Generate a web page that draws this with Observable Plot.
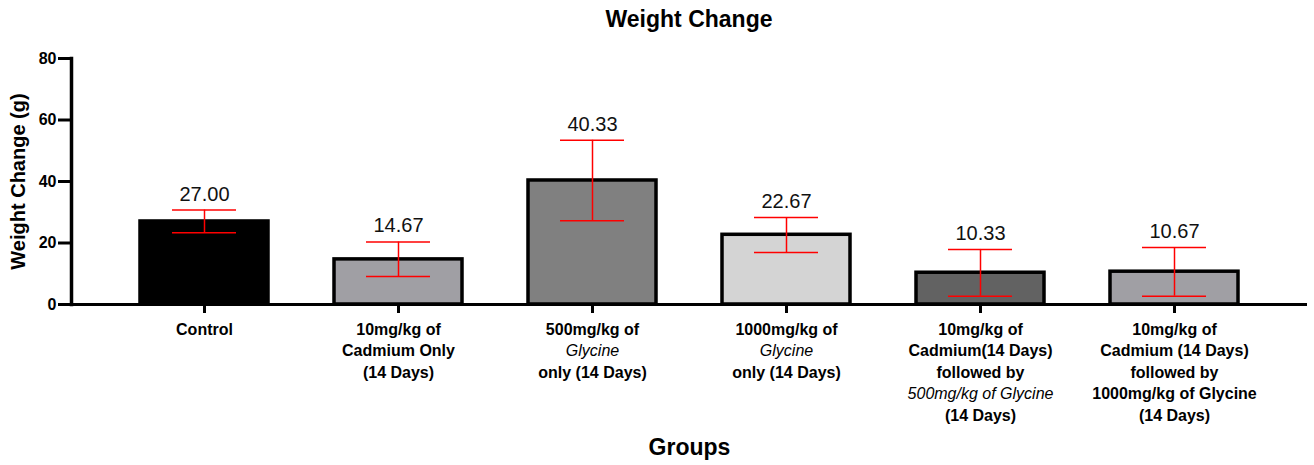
<!DOCTYPE html>
<html>
<head>
<meta charset="utf-8">
<script src="https://cdn.jsdelivr.net/npm/d3@7"></script>
<script src="https://cdn.jsdelivr.net/npm/@observablehq/plot@0.6"></script>
<style>
  html, body { margin: 0; padding: 0; background: #fff; }
  #title { width: 1314px; height: 40px; box-sizing: border-box; padding-left: 71px; padding-right: 7px;
    text-align: center; font: bold 23px "Liberation Sans", Arial, sans-serif; line-height: 38px; color: #000; }
  svg { display: block; }
</style>
</head>
<body>
<div id="title">Weight Change</div>
<div id="chart"></div>
<script>
// ---- data ----
const groups = ["G1", "G2", "G3", "G4", "G5", "G6"];
const means = [27.00, 14.67, 40.33, 22.67, 10.33, 10.67];
const errLow = [23.3, 9.1, 27.2, 16.9, 2.7, 2.7];
const errHigh = [30.7, 20.3, 53.4, 28.3, 17.9, 18.5];
const barColors = ["#000000", "#a09fa4", "#808080", "#d4d4d4", "#626262", "#a09fa4"];
const labelLines = [
  ["Control"],
  ["10mg/kg of", "Cadmium Only", "(14 Days)"],
  ["500mg/kg of", "Glycine", "only (14 Days)"],
  ["1000mg/kg of", "Glycine", "only (14 Days)"],
  ["10mg/kg of", "Cadmium(14 Days)", "followed by", "500mg/kg of Glycine", "(14 Days)"],
  ["10mg/kg of", "Cadmium (14 Days)", "followed by", "1000mg/kg of Glycine", "(14 Days)"]
];
const italicLines = [[], [], [1], [1], [3], []];
const yTicks = [0, 20, 40, 60, 80];
const yLabel = "Weight Change (g)";
const xLabel = "Groups";

// ---- tables ----
const rows = groups.map((g, i) => ({group: g, mean: means[i], lo: errLow[i], hi: errHigh[i], color: barColors[i]}));
const lineRows = [];
groups.forEach((g, i) => labelLines[i].forEach((t, j) => lineRows.push({group: g, line: j, text: t, italic: italicLines[i].includes(j)})));

const font = '"Liberation Sans", Arial, sans-serif';
const lineStep = 21.5;
const maxLines = d3.max(labelLines, l => l.length);

const labelMarks = [];
for (let j = 0; j < maxLines; ++j) {
  for (const italic of [false, true]) {
    const data = lineRows.filter(d => d.line === j && d.italic === italic);
    if (!data.length) continue;
    labelMarks.push(Plot.text(data, {
      x: "group", y: () => 0, text: "text", dy: 25 + j * lineStep, fontSize: 16,
      fontWeight: italic ? "normal" : "bold", fontStyle: italic ? "italic" : "normal",
      lineAnchor: "middle", fill: "#000"
    }));
  }
}

const chart = Plot.plot({
  width: 1314,
  height: 425,
  marginTop: 18,
  marginBottom: 161,
  marginLeft: 71,
  marginRight: 7,
  style: {fontFamily: font, background: "#fff", color: "#000"},
  x: {domain: groups, padding: 0.34, axis: null},
  y: {domain: [0, 80], axis: null},
  color: {type: "identity"},
  marks: [
    Plot.barY(rows, {x: "group", y: "mean", fill: "color", stroke: "#000", strokeWidth: 3.5}),
    Plot.ruleX(rows, {x: "group", y1: "lo", y2: "hi", stroke: "#ff0000", strokeWidth: 1.5}),
    Plot.tickY(rows, {x: "group", y: "lo", stroke: "#ff0000", strokeWidth: 1.5, insetLeft: 32, insetRight: 32}),
    Plot.tickY(rows, {x: "group", y: "hi", stroke: "#ff0000", strokeWidth: 1.5, insetLeft: 32, insetRight: 32}),
    Plot.text(rows, {x: "group", y: "hi", text: d => d.mean.toFixed(2), dy: -16, fontSize: 20, fill: "#111", lineAnchor: "middle"}),
    Plot.ruleY([0], {stroke: "#000", strokeWidth: 3}),
    Plot.frame({anchor: "left", stroke: "#000", strokeWidth: 3.5}),
    Plot.axisY({ticks: yTicks, tickSize: 13, tickPadding: 2, strokeWidth: 3, fontSize: 16, fontWeight: "bold", label: null, tickFormat: d => d}),
    Plot.axisX({tickSize: 9, strokeWidth: 3, tickFormat: () => "", label: null}),
    ...labelMarks,
    Plot.text([yLabel], {frameAnchor: "left", text: d => d, rotate: -90, dx: -53, textAnchor: "middle", fontSize: 20, fontWeight: "bold", fill: "#000"}),
    Plot.text([xLabel], {frameAnchor: "bottom", text: d => d, dy: 150, fontSize: 23, fontWeight: "bold", fill: "#000"})
  ]
});
document.getElementById("chart").appendChild(chart);
</script>
</body>
</html>
